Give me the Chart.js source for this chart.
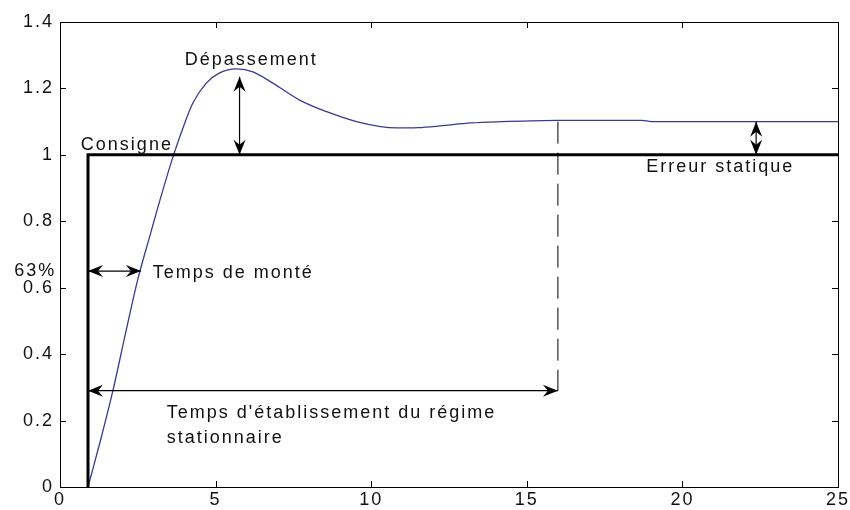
<!DOCTYPE html>
<html>
<head>
<meta charset="utf-8">
<script src="https://cdn.jsdelivr.net/npm/chart.js@4.4.1/dist/chart.umd.min.js"></script>
<style>
  html, body { margin: 0; padding: 0; background: #ffffff; }
  #wrap { width: 850px; height: 510px; position: relative; }
</style>
</head>
<body>
<div id="wrap"><canvas id="c" width="850" height="510"></canvas></div>
<script>
// ---- data ----
const xTickValues = [0, 5, 10, 15, 20, 25];
const xTickLabels = ['0', '5', '10', '15', '20', '25'];
const yTickValues = [0, 0.2, 0.4, 0.6, 0.8, 1, 1.2, 1.4];
const yTickLabels = ['0', '0.2', '0.4', '0.6', '0.8', '1', '1.2', '1.4'];

const consigneT = [0.9, 0.9, 25];
const consigneY = [0, 1, 1];

const responseT = [0.9, 1.3, 1.7, 2.1, 2.5, 2.9, 3.2, 3.63, 4.01, 4.27, 4.7, 5.13, 5.68, 6.2, 6.84, 7.7, 8.57, 9.53, 10.3, 10.8, 11.5, 12.2, 13.2, 14.2, 16.0, 18.7, 19.0, 25.0];
const responseY = [0, 0.14, 0.29, 0.46, 0.625, 0.76, 0.86, 0.994, 1.096, 1.156, 1.216, 1.247, 1.259, 1.25, 1.216, 1.165, 1.13, 1.1, 1.085, 1.081, 1.082, 1.087, 1.096, 1.1, 1.104, 1.104, 1.1, 1.1];

// annotation values (data units)
const overshootArrow = { x: 5.77, y0: 1.0, y1: 1.235 };
const staticErrorArrow = { x: 22.37, y0: 1.0, y1: 1.1 };
const riseArrow = { y: 0.65, x0: 0.9, x1: 2.6 };
const settleArrow = { y: 0.29, x0: 0.9, x1: 16.0 };
const settleDash = { x: 16.0, y0: 0.29, y1: 1.1 };

const noteTexts = ['Dépassement', 'Consigne', 'Temps de monté', "Temps d'établissement du régime", 'stationnaire', 'Erreur statique', '63%'];
const noteX = [4.01, 0.67, 2.98, 3.43, 3.43, 18.84, -0.12];
const noteY = [1.271, 1.015, 0.629, 0.208, 0.132, 0.949, 0.635];
const noteAlign = ['left', 'left', 'left', 'left', 'left', 'left', 'right'];

const FONT = '"Liberation Sans", Arial, sans-serif';

function toPts(xs, ys) { return xs.map((x, i) => ({ x: x, y: ys[i] })); }

function arrowHead(ctx, tx, ty, dx, dy) {
  const L = 15, W = 6, N = 10;
  const px = -dy, py = dx;
  ctx.beginPath();
  ctx.moveTo(tx, ty);
  ctx.lineTo(tx - dx * L + px * W, ty - dy * L + py * W);
  ctx.lineTo(tx - dx * N, ty - dy * N);
  ctx.lineTo(tx - dx * L - px * W, ty - dy * L - py * W);
  ctx.closePath();
  ctx.fill();
}

function doubleArrow(ctx, x0, y0, x1, y1) {
  const len = Math.hypot(x1 - x0, y1 - y0);
  const dx = (x1 - x0) / len, dy = (y1 - y0) / len;
  ctx.beginPath();
  ctx.moveTo(x0, y0);
  ctx.lineTo(x1, y1);
  ctx.stroke();
  arrowHead(ctx, x1, y1, dx, dy);
  arrowHead(ctx, x0, y0, -dx, -dy);
}

const framePlugin = {
  id: 'frameAndNotes',
  beforeDraw(chart) {
    chart.ctx.letterSpacing = '2px';
  },
  afterDatasetsDraw(chart) {
    const ctx = chart.ctx;
    const xs = chart.scales.x, ys = chart.scales.y;
    const a = chart.chartArea;
    ctx.save();
    ctx.letterSpacing = '2px';
    // frame
    ctx.strokeStyle = '#000';
    ctx.lineWidth = 1;
    ctx.strokeRect(Math.round(a.left) + 0.5, Math.round(a.top) + 0.5, Math.round(a.right - a.left), Math.round(a.bottom - a.top));
    // inward ticks
    const tl = 6;
    ctx.beginPath();
    xTickValues.forEach(v => {
      const px = Math.round(xs.getPixelForValue(v)) + 0.5;
      ctx.moveTo(px, a.bottom); ctx.lineTo(px, a.bottom - tl);
      ctx.moveTo(px, a.top); ctx.lineTo(px, a.top + tl);
    });
    yTickValues.forEach(v => {
      const py = Math.round(ys.getPixelForValue(v)) + 0.5;
      ctx.moveTo(a.left, py); ctx.lineTo(a.left + tl, py);
      ctx.moveTo(a.right, py); ctx.lineTo(a.right - tl, py);
    });
    ctx.stroke();

    // dashed settle line
    ctx.setLineDash([22, 9]);
    ctx.beginPath();
    const dxp = xs.getPixelForValue(settleDash.x);
    ctx.moveTo(dxp, ys.getPixelForValue(settleDash.y1));
    ctx.lineTo(dxp, ys.getPixelForValue(settleDash.y0));
    ctx.stroke();
    ctx.setLineDash([]);

    // arrows
    ctx.fillStyle = '#000';
    ctx.lineWidth = 1.2;
    doubleArrow(ctx, xs.getPixelForValue(overshootArrow.x), ys.getPixelForValue(overshootArrow.y0),
                     xs.getPixelForValue(overshootArrow.x), ys.getPixelForValue(overshootArrow.y1));
    doubleArrow(ctx, xs.getPixelForValue(staticErrorArrow.x), ys.getPixelForValue(staticErrorArrow.y0),
                     xs.getPixelForValue(staticErrorArrow.x), ys.getPixelForValue(staticErrorArrow.y1));
    doubleArrow(ctx, xs.getPixelForValue(riseArrow.x0), ys.getPixelForValue(riseArrow.y),
                     xs.getPixelForValue(riseArrow.x1), ys.getPixelForValue(riseArrow.y));
    doubleArrow(ctx, xs.getPixelForValue(settleArrow.x0), ys.getPixelForValue(settleArrow.y),
                     xs.getPixelForValue(settleArrow.x1), ys.getPixelForValue(settleArrow.y));

    // texts
    ctx.font = '18px ' + FONT;
    ctx.fillStyle = '#111';
    ctx.textBaseline = 'alphabetic';
    noteTexts.forEach((t, i) => {
      ctx.textAlign = noteAlign[i];
      ctx.fillText(t, xs.getPixelForValue(noteX[i]), ys.getPixelForValue(noteY[i]));
    });
    ctx.restore();
  },
  afterDraw(chart) {
    chart.ctx.letterSpacing = '0px';
  }
};

new Chart(document.getElementById('c'), {
  type: 'scatter',
  data: {
    datasets: [
      {
        label: 'Consigne',
        data: toPts(consigneT, consigneY),
        showLine: true,
        borderColor: '#000000',
        borderWidth: 3,
        pointRadius: 0,
        tension: 0
      },
      {
        label: 'Réponse',
        data: toPts(responseT, responseY),
        showLine: true,
        borderColor: '#3a3a8c',
        borderWidth: 1.3,
        pointRadius: 0,
        cubicInterpolationMode: 'monotone'
      }
    ]
  },
  options: {
    responsive: false,
    animation: false,
    events: [],
    layout: { padding: { top: 22, right: 11, left: 0, bottom: 0 } },
    plugins: { legend: { display: false }, tooltip: { enabled: false }, title: { display: false } },
    scales: {
      x: {
        type: 'linear',
        min: 0, max: 25,
        afterBuildTicks(s) { s.ticks = xTickValues.map(v => ({ value: v })); },
        ticks: {
          callback: (v) => { const i = xTickValues.indexOf(v); return i >= 0 ? xTickLabels[i] : ''; },
          font: { family: FONT, size: 18 },
          color: '#111',
          padding: 2,
          maxRotation: 0,
          autoSkip: false
        },
        grid: { display: false, drawTicks: false },
        border: { display: false },
        afterFit(s) { s.height = 23; }
      },
      y: {
        type: 'linear',
        min: 0, max: 1.4,
        afterBuildTicks(s) { s.ticks = yTickValues.map(v => ({ value: v })); },
        ticks: {
          callback: (v) => { const i = yTickValues.findIndex(t => Math.abs(t - v) < 1e-9); return i >= 0 ? yTickLabels[i] : ''; },
          font: { family: FONT, size: 18 },
          color: '#111',
          padding: 6,
          autoSkip: false
        },
        grid: { display: false, drawTicks: false },
        border: { display: false },
        afterFit(s) { s.width = 60; }
      }
    }
  },
  plugins: [framePlugin]
});
</script>
</body>
</html>
